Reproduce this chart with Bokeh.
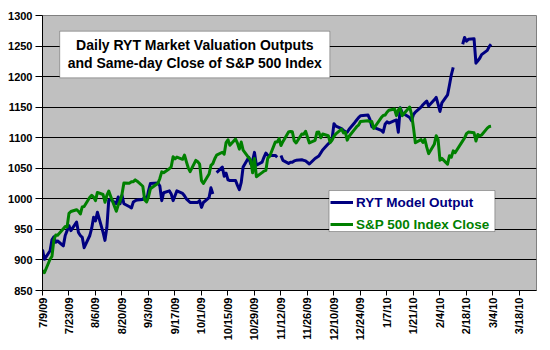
import math
import numpy as np
import pandas as pd
from bokeh.plotting import figure
from bokeh.models import (FixedTicker, BoxAnnotation, Label, Legend, LegendItem,
                          Range1d, ColumnDataSource)
from bokeh.embed import file_html
from bokeh.resources import INLINE

# ---------------- data ----------------
dates = [
    "2009-07-09", "2009-07-10", "2009-07-13", "2009-07-14", "2009-07-15", "2009-07-16", "2009-07-17",
    "2009-07-20", "2009-07-21", "2009-07-22", "2009-07-23", "2009-07-24", "2009-07-27", "2009-07-28",
    "2009-07-29", "2009-07-30", "2009-07-31", "2009-08-03", "2009-08-04", "2009-08-05", "2009-08-06",
    "2009-08-07", "2009-08-10", "2009-08-11", "2009-08-12", "2009-08-13", "2009-08-14", "2009-08-17",
    "2009-08-18", "2009-08-19", "2009-08-20", "2009-08-21", "2009-08-24", "2009-08-25", "2009-08-26",
    "2009-08-27", "2009-08-28", "2009-08-31", "2009-09-01", "2009-09-02", "2009-09-03", "2009-09-04",
    "2009-09-08", "2009-09-09", "2009-09-10", "2009-09-11", "2009-09-14", "2009-09-15", "2009-09-16",
    "2009-09-17", "2009-09-18", "2009-09-21", "2009-09-22", "2009-09-23", "2009-09-24", "2009-09-25",
    "2009-09-28", "2009-09-29", "2009-09-30", "2009-10-01", "2009-10-02", "2009-10-05", "2009-10-06",
    "2009-10-07", "2009-10-08", "2009-10-09", "2009-10-12", "2009-10-13", "2009-10-14", "2009-10-15",
    "2009-10-16", "2009-10-19", "2009-10-20", "2009-10-21", "2009-10-22", "2009-10-23", "2009-10-26",
    "2009-10-27", "2009-10-28", "2009-10-29", "2009-10-30", "2009-11-02", "2009-11-03", "2009-11-04",
    "2009-11-05", "2009-11-06", "2009-11-09", "2009-11-10", "2009-11-11", "2009-11-12", "2009-11-13",
    "2009-11-16", "2009-11-17", "2009-11-18", "2009-11-19", "2009-11-20", "2009-11-23", "2009-11-24",
    "2009-11-25", "2009-11-27", "2009-11-30", "2009-12-01", "2009-12-02", "2009-12-03", "2009-12-04",
    "2009-12-07", "2009-12-08", "2009-12-09", "2009-12-10", "2009-12-11", "2009-12-14", "2009-12-15",
    "2009-12-16", "2009-12-17", "2009-12-18", "2009-12-21", "2009-12-22", "2009-12-23", "2009-12-24",
    "2009-12-28", "2009-12-29", "2009-12-30", "2009-12-31", "2010-01-04", "2010-01-05", "2010-01-06",
    "2010-01-07", "2010-01-08", "2010-01-11", "2010-01-12", "2010-01-13", "2010-01-14", "2010-01-15",
    "2010-01-19", "2010-01-20", "2010-01-21", "2010-01-22", "2010-01-25", "2010-01-26", "2010-01-27",
    "2010-01-28", "2010-01-29", "2010-02-01", "2010-02-02", "2010-02-03", "2010-02-04", "2010-02-05",
    "2010-02-08", "2010-02-09", "2010-02-10", "2010-02-11", "2010-02-12", "2010-02-16", "2010-02-17",
    "2010-02-18", "2010-02-19", "2010-02-22", "2010-02-23", "2010-02-24", "2010-02-25", "2010-02-26",
    "2010-03-01", "2010-03-02", "2010-03-03",
]

sp500 = [
    882.7, 879.1, 901.1, 905.8, 932.7, 940.7, 940.4,
    951.1, 954.6, 954.1, 976.3, 979.3, 982.2, 979.6,
    975.2, 986.8, 987.5, 1002.6, 1005.7, 1002.7, 997.1,
    1010.5, 1007.1, 994.4, 1005.8, 1012.7, 1004.1, 979.7,
    989.7, 996.5, 1007.4, 1026.1, 1025.6, 1028.0, 1028.1,
    1031.0, 1028.9, 1020.6, 998.0, 994.8, 1003.2, 1016.4,
    1025.4, 1033.4, 1044.1, 1042.7, 1049.3, 1052.6, 1068.8,
    1065.5, 1068.3, 1064.7, 1071.7, 1060.9, 1050.8, 1044.4,
    1063.0, 1060.6, 1057.1, 1029.9, 1025.2, 1040.5, 1054.7,
    1057.6, 1065.5, 1071.5, 1076.2, 1073.2, 1092.0, 1096.6,
    1087.7, 1097.9, 1091.1, 1081.4, 1092.9, 1079.6, 1067.0,
    1063.4, 1042.6, 1066.1, 1036.2, 1042.9, 1045.4, 1046.5,
    1066.6, 1069.3, 1093.1, 1093.0, 1098.5, 1087.2, 1093.5,
    1109.3, 1110.3, 1109.8, 1094.9, 1091.4, 1106.2, 1105.7,
    1110.6, 1091.5, 1095.6, 1108.9, 1109.2, 1099.9, 1106.0,
    1103.3, 1091.9, 1096.0, 1102.4, 1106.4, 1114.1, 1107.9,
    1109.2, 1096.1, 1102.5, 1114.1, 1118.0, 1120.6, 1126.5,
    1127.8, 1126.2, 1126.4, 1115.1, 1133.0, 1136.5, 1137.1,
    1141.7, 1145.0, 1147.0, 1136.2, 1145.7, 1148.5, 1136.0,
    1150.2, 1138.0, 1116.5, 1091.8, 1096.8, 1092.2, 1097.5,
    1084.5, 1073.9, 1089.2, 1103.3, 1097.3, 1063.1, 1066.2,
    1056.7, 1070.5, 1068.1, 1078.5, 1075.5, 1094.9, 1099.5,
    1106.8, 1109.2, 1108.0, 1094.6, 1105.2, 1102.9, 1104.5,
    1115.7, 1118.3, 1118.8,
]

ryt = [
    917, 901, 915, 933, 938, 929, 931,
    923, 940, 948, 956, 948, 962, 945,
    940, 937, 920, 940, 952, 970, 964,
    978, 945, 932, 953, 998, 999, 992,
    1003, 992, 1006, 992, 987, 985, 995,
    997, 998, 999, 1003, 997, 1013, 1025,
    1026, 1021, 997, 1010, 1013, 1008, 997,
    1005, 1013, 1009, 1005, 1000, 997, 994,
    994, 994, 997, 986, 994, 1002, 1018,
    1008, None, 1043, 1052, 1037, 1042, 1031,
    1030, 1030, 1022, 1015, 1027, 1052, 1068,
    1057, 1062, 1076, 1055, 1060, 1068, 1075,
    1071, 1071, 1071, 1068, None, 1071, 1063,
    1058, 1060, 1060, 1062, 1063, 1064, 1063,
    1062, 1057, 1066, 1068, 1070, 1075, 1080,
    1090, 1093, 1098, 1123, 1119, 1115, 1112,
    1110, 1109, 1114, 1125, 1129, 1133, 1136,
    1137, 1130, 1118, 1117, 1112, 1109, 1122,
    1126, 1124, 1128, 1129, 1109, 1149, 1141,
    1133, 1128, 1138, 1142, 1150, 1154, 1157,
    1160, 1152, 1162, 1166, 1155, 1143, 1157,
    1170, 1186, 1203, 1215, None, 1253, 1264,
    1258, 1261, 1262, 1222, 1226, 1230, 1236,
    1243, 1249, 1253,
]

tick_labels = ["7/9/09", "7/23/09", "8/6/09", "8/20/09", "9/3/09", "9/17/09", "10/1/09",
               "10/15/09", "10/29/09", "11/12/09", "11/26/09", "12/10/09", "12/24/09",
               "1/7/10", "1/21/10", "2/4/10", "2/18/10", "3/4/10", "3/18/10"]
y_ticks = [850, 900, 950, 1000, 1050, 1100, 1150, 1200, 1250, 1300]

series_names = ["RYT Model Output", "S&P 500 Index Close"]
title_lines = ["Daily RYT Market Valuation Outputs", "and Same-day Close of S&P 500 Index"]

# ---------------- build ----------------
assert len(dates) == len(sp500) == len(ryt)
start = pd.Timestamp("2009-07-09")
xd = (pd.to_datetime(dates) - start).days.to_numpy().astype(float)
tick_pos = [int((pd.to_datetime(t, format="%m/%d/%y") - start).days) for t in tick_labels]

src = ColumnDataSource(dict(x=xd, ryt=np.array(ryt, dtype=float), sp=np.array(sp500, dtype=float)))

FONT = "Liberation Sans"
BLUE = "#000080"
GREEN = "#008000"

p = figure(width=550, height=350, output_backend="svg", toolbar_location=None,
           x_range=Range1d(0, 261), y_range=Range1d(850, 1300),
           min_border_left=42, min_border_right=14, min_border_top=15, min_border_bottom=60,
           background_fill_color="#C0C0C0", border_fill_color="white",
           outline_line_color="#808080", outline_line_width=1)

# axes
p.xaxis.ticker = FixedTicker(ticks=tick_pos)
p.xaxis.major_label_overrides = {t: l for t, l in zip(tick_pos, tick_labels)}
p.xaxis.major_label_orientation = math.pi / 2
p.yaxis.ticker = FixedTicker(ticks=y_ticks)
for ax in (p.xaxis[0], p.yaxis[0]):
    ax.axis_line_color = "black"
    ax.axis_line_width = 1
    ax.major_tick_line_color = "black"
    ax.major_tick_in = 0
    ax.minor_tick_line_color = None
    ax.major_label_text_font = FONT
    ax.major_label_text_font_style = "bold"
    ax.major_label_text_font_size = "11px"
    ax.major_label_text_color = "black"
p.xaxis.major_tick_out = 5
p.xaxis.major_label_standoff = 2
p.yaxis.major_tick_out = 7
p.yaxis.major_label_standoff = 3

p.xgrid.grid_line_color = None
p.ygrid.ticker = FixedTicker(ticks=y_ticks[1:-1])
p.ygrid.grid_line_color = "black"
p.ygrid.grid_line_width = 1

# lines
r1 = p.line("x", "ryt", source=src, line_color=BLUE, line_width=3, line_join="round")
r2 = p.line("x", "sp", source=src, line_color=GREEN, line_width=3, line_join="round")

# title box
p.add_layout(BoxAnnotation(left=9.1, right=151.8, top=1274.3, bottom=1198.0,
                           fill_color="white", fill_alpha=1.0, line_color="black", line_width=1))
for txt, yv in zip(title_lines, [1252.5, 1221.9]):
    p.add_layout(Label(x=80.5, y=yv, text=txt, text_align="center", text_baseline="middle",
                       text_font=FONT, text_font_style="bold", text_font_size="14px",
                       text_color="black"))

# legend box
p.add_layout(BoxAnnotation(left=151.4, right=239.0, top=1013.6, bottom=946.5,
                           fill_color="white", fill_alpha=1.0, line_color="black", line_width=1))
for name, rend, col, loc in zip(series_names, [r1, r2], [BLUE, GREEN], [(288, 78), (288, 56)]):
    leg = Legend(items=[LegendItem(label=name, renderers=[rend])], location=loc,
                 background_fill_alpha=0, border_line_color=None, padding=2, margin=0,
                 spacing=0, glyph_width=23, glyph_height=20, label_height=20,
                 label_standoff=3, label_text_font=FONT, label_text_font_style="bold",
                 label_text_font_size="13.5px", label_text_color=col)
    p.add_layout(leg)

open("out.html", "w").write(file_html(p, INLINE))
